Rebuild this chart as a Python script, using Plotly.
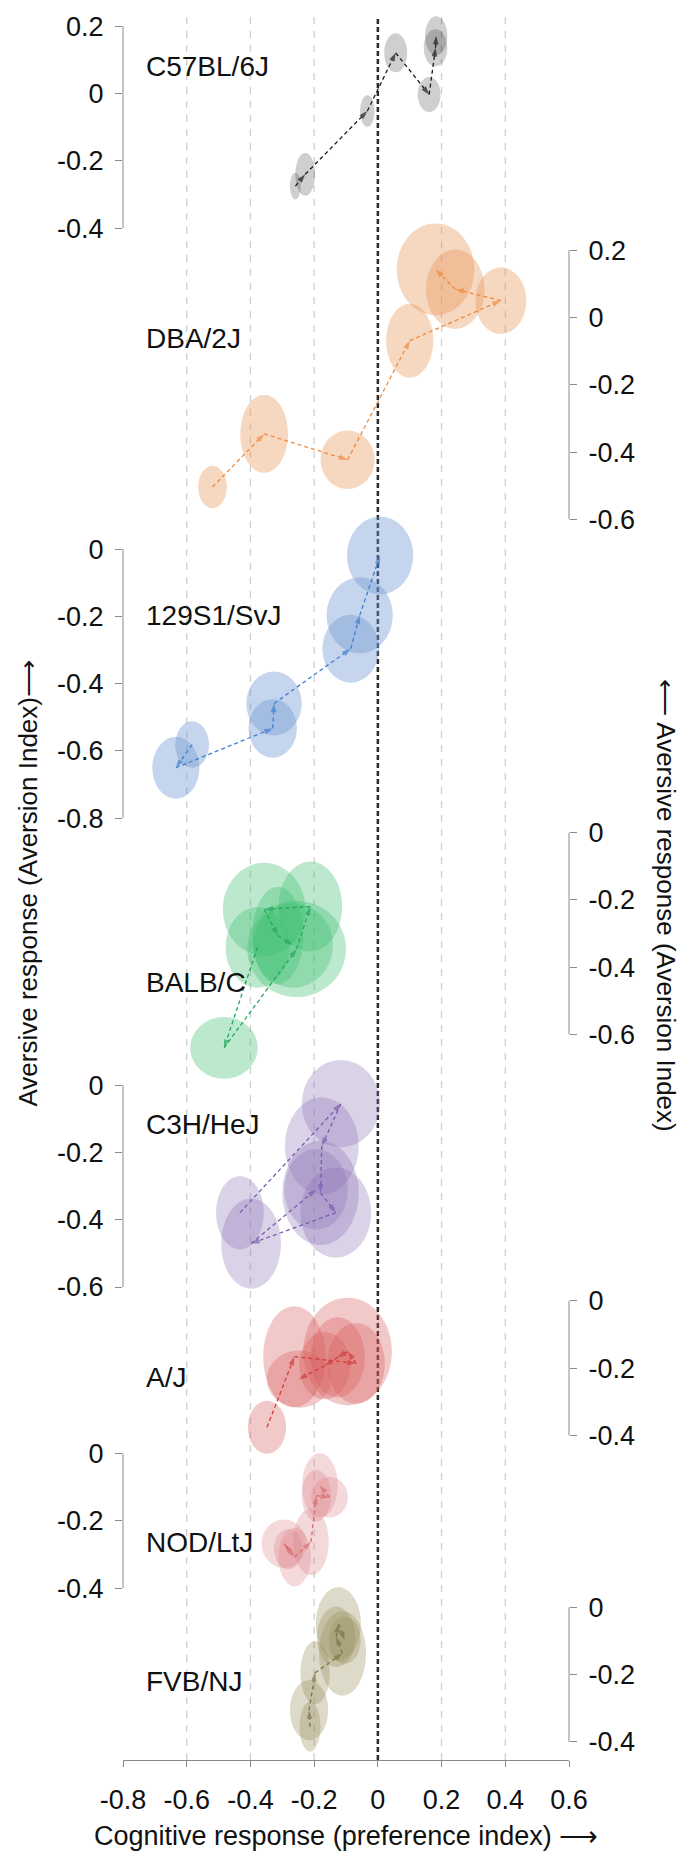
import plotly.graph_objects as go

# ---------------- data ----------------
strains = ["C57BL/6J", "DBA/2J", "129S1/SvJ", "BALB/C", "C3H/HeJ", "A/J", "NOD/LtJ", "FVB/NJ"]

c57_x = [-0.259, -0.228, -0.033, 0.056, 0.161, 0.181, 0.183]
c57_y = [-0.275, -0.240, -0.052, 0.121, -0.003, 0.136, 0.172]
c57_sx = [0.017, 0.031, 0.023, 0.036, 0.036, 0.037, 0.035]
c57_sy = [0.040, 0.064, 0.047, 0.058, 0.052, 0.055, 0.058]

dba_x = [-0.519, -0.357, -0.095, 0.100, 0.386, 0.243, 0.181]
dba_y = [-0.504, -0.346, -0.423, -0.069, 0.050, 0.084, 0.143]
dba_sx = [0.045, 0.075, 0.085, 0.074, 0.080, 0.092, 0.122]
dba_sy = [0.063, 0.116, 0.087, 0.110, 0.099, 0.118, 0.136]

s129_x = [-0.583, -0.634, -0.330, -0.326, -0.085, -0.057, 0.007]
s129_y = [-0.581, -0.650, -0.533, -0.459, -0.296, -0.197, -0.019]
s129_sx = [0.053, 0.074, 0.076, 0.087, 0.089, 0.104, 0.104]
s129_sy = [0.069, 0.092, 0.087, 0.095, 0.101, 0.113, 0.116]

balb_x = [-0.378, -0.483, -0.255, -0.212, -0.357, -0.314, -0.266]
balb_y = [-0.341, -0.640, -0.346, -0.220, -0.228, -0.306, -0.335]
balb_sx = [0.100, 0.106, 0.155, 0.100, 0.130, 0.080, 0.125]
balb_sy = [0.120, 0.092, 0.143, 0.134, 0.138, 0.145, 0.126]

c3h_x = [-0.433, -0.116, -0.176, -0.180, -0.132, -0.398, -0.194]
c3h_y = [-0.379, -0.055, -0.181, -0.320, -0.379, -0.471, -0.310]
c3h_sx = [0.075, 0.123, 0.116, 0.120, 0.111, 0.094, 0.100]
c3h_sy = [0.109, 0.130, 0.144, 0.155, 0.134, 0.134, 0.120]

aj_x = [-0.348, -0.262, -0.068, -0.095, -0.126, -0.167, -0.248]
aj_y = [-0.376, -0.166, -0.186, -0.151, -0.168, -0.193, -0.233]
aj_sx = [0.060, 0.098, 0.090, 0.139, 0.085, 0.080, 0.101]
aj_sy = [0.079, 0.150, 0.120, 0.160, 0.119, 0.100, 0.085]

nod_x = [-0.281, -0.295, -0.261, -0.210, -0.193, -0.152, -0.182]
nod_y = [-0.284, -0.268, -0.308, -0.263, -0.125, -0.130, -0.095]
nod_sx = [0.045, 0.070, 0.051, 0.056, 0.046, 0.058, 0.056]
nod_sy = [0.060, 0.072, 0.087, 0.099, 0.077, 0.060, 0.096]

fvb_x = [-0.213, -0.216, -0.197, -0.111, -0.131, -0.124, -0.104]
fvb_y = [-0.355, -0.306, -0.195, -0.137, -0.088, -0.050, -0.098]
fvb_sx = [0.033, 0.060, 0.046, 0.074, 0.060, 0.071, 0.050]
fvb_sy = [0.074, 0.089, 0.094, 0.126, 0.090, 0.110, 0.070]

# y tick values per strain panel
c57_ticks = [0.2, 0, -0.2, -0.4]
dba_ticks = [0.2, 0, -0.2, -0.4, -0.6]
s129_ticks = [0, -0.2, -0.4, -0.6, -0.8]
balb_ticks = [0, -0.2, -0.4, -0.6]
c3h_ticks = [0, -0.2, -0.4, -0.6]
aj_ticks = [0, -0.2, -0.4]
nod_ticks = [0, -0.2, -0.4]
fvb_ticks = [0, -0.2, -0.4]

x_ticks = [-0.8, -0.6, -0.4, -0.2, 0, 0.2, 0.4, 0.6]
grid_x = [-0.6, -0.4, -0.2, 0.2, 0.4]

# ---------------- styling ----------------
FONT = "Liberation Sans, Arial, Helvetica, sans-serif"
PLOT_TOP, PLOT_BOTTOM = 13, 1760      # px of plot area
PX_PER_UNIT = 337.0                   # vertical px per aversion-index unit
ML, MR = 123, 114

panels = [
    dict(name=strains[0], x=c57_x, y=c57_y, sx=c57_sx, sy=c57_sy, ticks=c57_ticks, side="left",
         zero_px=90.7, line="#1a1a1a", fill="rgb(0,0,0)", op=0.19, label_y=0.08),
    dict(name=strains[1], x=dba_x, y=dba_y, sx=dba_sx, sy=dba_sy, ticks=dba_ticks, side="right",
         zero_px=315, line="#f08a3c", fill="rgb(232,150,90)", op=0.38, label_y=-0.063),
    dict(name=strains[2], x=s129_x, y=s129_y, sx=s129_sx, sy=s129_sy, ticks=s129_ticks, side="left",
         zero_px=547, line="#3f7fd0", fill="rgb(110,150,210)", op=0.4, label_y=-0.198),
    dict(name=strains[3], x=balb_x, y=balb_y, sx=balb_sx, sy=balb_sy, ticks=balb_ticks, side="right",
         zero_px=831, line="#22a85a", fill="rgb(60,190,110)", op=0.34, label_y=-0.445),
    dict(name=strains[4], x=c3h_x, y=c3h_y, sx=c3h_sx, sy=c3h_sy, ticks=c3h_ticks, side="left",
         zero_px=1084, line="#7a5cb0", fill="rgb(140,115,180)", op=0.32, label_y=-0.117),
    dict(name=strains[5], x=aj_x, y=aj_y, sx=aj_sx, sy=aj_sy, ticks=aj_ticks, side="right",
         zero_px=1300, line="#d23c3c", fill="rgb(215,90,90)", op=0.33, label_y=-0.228),
    dict(name=strains[6], x=nod_x, y=nod_y, sx=nod_sx, sy=nod_sy, ticks=nod_ticks, side="left",
         zero_px=1453, line="#d96c6c", fill="rgb(220,130,135)", op=0.3, label_y=-0.263),
    dict(name=strains[7], x=fvb_x, y=fvb_y, sx=fvb_sx, sy=fvb_sy, ticks=fvb_ticks, side="right",
         zero_px=1607, line="#7d7445", fill="rgb(150,140,90)", op=0.32, label_y=-0.22),
]


def fmt(v):
    return ("%.1f" % v) if v != 0 else "0"


fig = go.Figure()
shapes = []
annotations = []

# vertical dashed grid lines
for gv in grid_x:
    shapes.append(dict(type="line", xref="x", yref="paper", x0=gv, x1=gv, y0=0, y1=1,
                       line=dict(color="#cfcfcf", width=1.3, dash="7px,7px"), layer="below"))

layout_axes = {}
for i, p in enumerate(panels):
    yname = "y" if i == 0 else "y%d" % (i + 1)
    ykey = "yaxis" if i == 0 else "yaxis%d" % (i + 1)
    z = p["zero_px"]
    ax = dict(
        range=[(z - PLOT_BOTTOM) / PX_PER_UNIT, (z - PLOT_TOP) / PX_PER_UNIT],
        tickvals=p["ticks"], ticktext=[fmt(v) for v in p["ticks"]],
        ticks="outside", ticklen=7, tickwidth=1, tickcolor="#8a8a8a",
        ticklabelstandoff=6,
        showline=False, showgrid=False, zeroline=False,
        side=p["side"], anchor="x", fixedrange=True,
        tickfont=dict(family=FONT, size=27, color="#111"),
    )
    if i == 0:
        ax["domain"] = [0, 1]
    else:
        ax["overlaying"] = "y"
    layout_axes[ykey] = ax

    # confidence ellipses
    for cx, cy, rx, ry in zip(p["x"], p["y"], p["sx"], p["sy"]):
        shapes.append(dict(type="circle", xref="x", yref=yname,
                           x0=cx - rx, x1=cx + rx, y0=cy - ry, y1=cy + ry,
                           fillcolor=p["fill"], opacity=p["op"], line=dict(width=0), layer="below"))

    # partial axis line spanning only the tick range
    xpos = 0 if p["side"] == "left" else 1
    shapes.append(dict(type="line", xref="paper", yref=yname, x0=xpos, x1=xpos,
                       y0=min(p["ticks"]), y1=max(p["ticks"]),
                       line=dict(color="#8a8a8a", width=1), layer="above"))

    # trajectory with arrowheads
    n = len(p["x"])
    fig.add_trace(go.Scatter(
        x=p["x"], y=p["y"], yaxis=yname, xaxis="x", mode="lines+markers",
        line=dict(color=p["line"], width=1.3, dash="4px,3px"),
        marker=dict(symbol=["circle"] + ["arrow"] * (n - 1), size=[6] + [9] * (n - 1),
                    angleref="previous", color=p["line"], line=dict(width=0)),
        hoverinfo="skip", showlegend=False, cliponaxis=False,
    ))

    annotations.append(dict(text=p["name"], xref="x", yref=yname, x=-0.735, y=p["label_y"],
                            xanchor="left", yanchor="middle", showarrow=False,
                            font=dict(family=FONT, size=28, color="#111")))

# black dashed reference line at x = 0
shapes.append(dict(type="line", xref="x", yref="paper", x0=0, x1=0, y0=0, y1=1,
                   line=dict(color="#2a2a2a", width=2.5, dash="5px,3px"), layer="below"))

plot_w = 683 - ML - MR
plot_h = PLOT_BOTTOM - PLOT_TOP
annotations.append(dict(text="Cognitive response (preference index) \u27f6", xref="paper", yref="paper",
                        x=0.5, y=(PLOT_BOTTOM - 1836) / plot_h, xanchor="center", yanchor="middle",
                        showarrow=False, font=dict(family=FONT, size=27, color="#111")))
annotations.append(dict(text="Aversive response (Aversion Index)\u27f6", xref="paper", yref="paper",
                        x=(28 - ML) / plot_w, y=(PLOT_BOTTOM - 882) / plot_h, textangle=-90,
                        xanchor="center", yanchor="middle", showarrow=False,
                        font=dict(family=FONT, size=26, color="#111")))
annotations.append(dict(text="\u27f5 Aversive response (Aversion Index)", xref="paper", yref="paper",
                        x=(666 - ML) / plot_w, y=(PLOT_BOTTOM - 904) / plot_h, textangle=90,
                        xanchor="center", yanchor="middle", showarrow=False,
                        font=dict(family=FONT, size=26, color="#111")))

fig.update_layout(
    width=683, height=1855,
    margin=dict(l=ML, r=MR, t=PLOT_TOP, b=1855 - PLOT_BOTTOM, pad=0),
    paper_bgcolor="white", plot_bgcolor="white",
    xaxis=dict(range=[-0.8, 0.6], domain=[0, 1], anchor="y",
               tickvals=x_ticks, ticktext=[fmt(v) for v in x_ticks],
               ticks="outside", ticklen=6, tickwidth=1, tickcolor="#8a8a8a",
               ticklabelstandoff=10,
               showline=True, linecolor="#8a8a8a", linewidth=1,
               showgrid=False, zeroline=False, fixedrange=True,
               tickfont=dict(family=FONT, size=27, color="#111")),
    shapes=shapes, annotations=annotations, showlegend=False,
    **layout_axes,
)

fig.write_html("out.html")
